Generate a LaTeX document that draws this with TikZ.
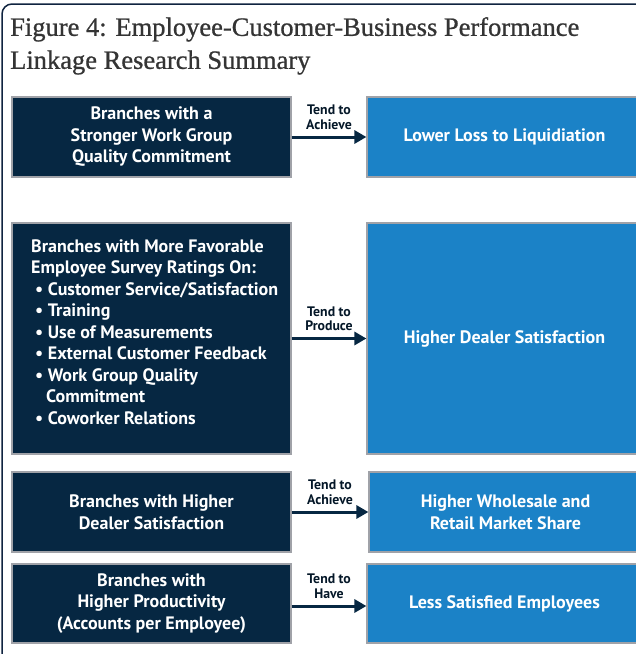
\documentclass[tikz,border=0pt]{standalone}
\usepackage{fontspec}
\setmainfont{Liberation Serif}
\newfontfamily\titlefont{Liberation Serif}[FakeBold=0.8]
\newfontfamily\boxfont{PT Sans}
\usetikzlibrary{arrows.meta}
\definecolor{navy}{RGB}{6,39,66}
\definecolor{skyblue}{RGB}{27,130,199}
\definecolor{edgegray}{RGB}{160,162,168}
\definecolor{titlegray}{RGB}{52,52,52}
\definecolor{framenavy}{RGB}{16,36,64}

\begin{document}
\begin{tikzpicture}[x=1pt,y=1pt,
  box/.style={draw=edgegray, line width=1.2pt, inner sep=0pt, align=center,
    text=white, font=\boxfont\bfseries\fontsize{18}{21.5}\selectfont},
  cause/.style={box, fill=navy, minimum width=279pt},
  effect/.style={box, fill=skyblue, minimum width=275pt},
  link/.style={draw=navy, line width=3pt, -{Triangle[length=12pt,width=13pt]}},
  verb/.style={font=\boxfont\bfseries\fontsize{13.8}{14.5}\selectfont,
    text=navy!60!black, align=center, inner sep=0pt}
]
\useasboundingbox (0,0) rectangle (636,-654);
\begin{scope}
\clip (0,0) rectangle (636,-654);

% outer frame, open towards the right and bottom
\draw[framenavy, line width=1.5pt, rounded corners=10pt] (2,-680) -- (2,-4) -- (680,-4);

% title
\node[anchor=north west, inner sep=0pt, align=left, text=titlegray,
      font=\titlefont\fontsize{26.5}{33}\selectfont] (title) at (10,-17)
  {Figure 4: Employee-Customer-Business Performance\\Linkage Research Summary};

% row 1
\node[cause, minimum height=80pt] (l1) at (151.5,-137)
  {Branches with a\\Stronger Work Group\\Quality Commitment};
\node[effect, minimum height=80pt] (r1) at (504.5,-137) {Lower Loss to Liquidiation};
\draw[link] (l1.east) -- (r1.west)
  node[verb, midway, above=6pt] (v1) {Tend to\\Achieve};

% row 2
\node[cause, minimum height=231pt] (l2) at (151.5,-338.5) {};
\node[anchor=north west, inner sep=0pt, align=left, text=white,
      font=\boxfont\bfseries\fontsize{18}{21.5}\selectfont] (l2txt) at (31,-239)
  {Branches with More Favorable\\
   Employee Survey Ratings On:\\
   \hspace*{4pt}\textbullet\ Customer Service/Satisfaction\\
   \hspace*{4pt}\textbullet\ Training\\
   \hspace*{4pt}\textbullet\ Use of Measurements\\
   \hspace*{4pt}\textbullet\ External Customer Feedback\\
   \hspace*{4pt}\textbullet\ Work Group Quality\\
   \hspace*{15pt}Commitment\\
   \hspace*{4pt}\textbullet\ Coworker Relations};
\node[effect, minimum height=231pt] (r2) at (504.5,-338.5) {Higher Dealer Satisfaction};
\draw[link] (l2.east) -- (r2.west)
  node[verb, midway, above=6pt] (v2) {Tend to\\Produce};

% row 3
\node[cause, minimum height=80pt] (l3) at (151.5,-512)
  {Branches with Higher\\Dealer Satisfaction};
\node[effect, minimum width=273pt, minimum height=80pt] (r3) at (505.5,-512)
  {Higher Wholesale and\\Retail Market Share};
\draw[link] (l3.east) -- (r3.west)
  node[verb, midway, above=6pt] (v3) {Tend to\\Achieve};

% row 4
\node[cause, minimum height=79pt] (l4) at (151.5,-603.5)
  {Branches with\\Higher Productivity\\(Accounts per Employee)};
\node[effect, minimum height=79pt] (r4) at (504.5,-603.5) {Less Satisfied Employees};
\draw[link] ([yshift=-2.5pt]l4.east) -- ([yshift=-2.5pt]r4.west)
  node[verb, midway, above=6pt] (v4) {Tend to\\Have};
\end{scope}
\end{tikzpicture}
\end{document}
